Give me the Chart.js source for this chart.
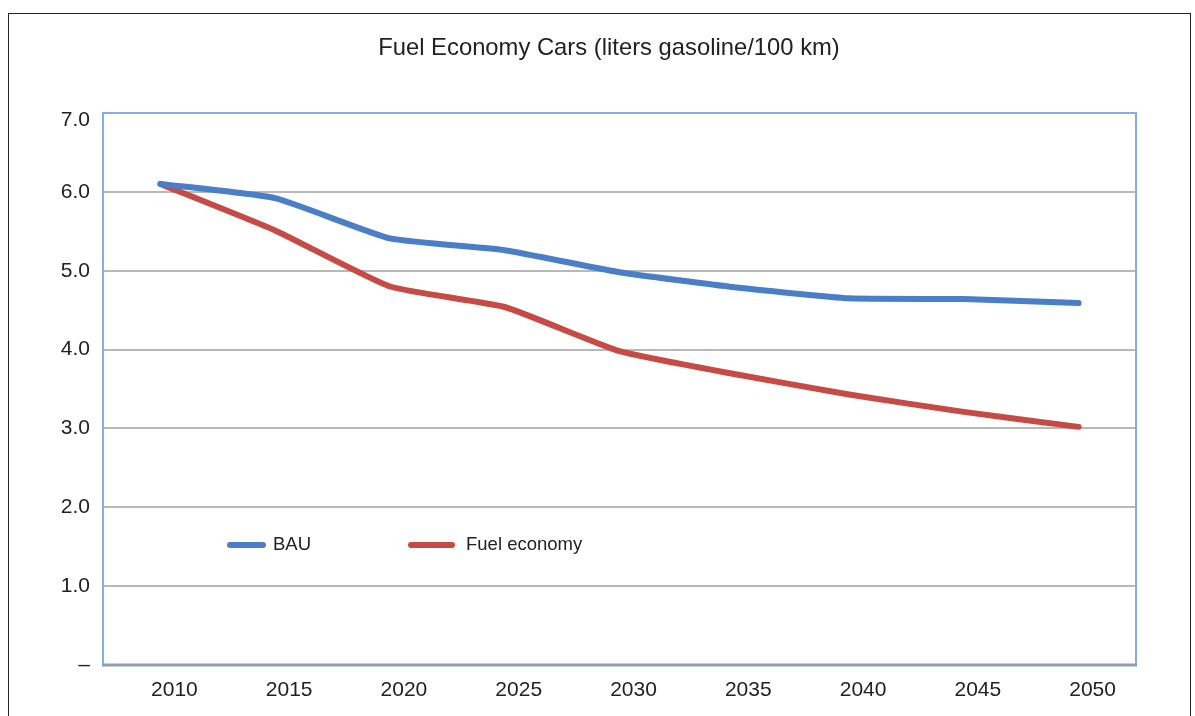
<!DOCTYPE html>
<html>
<head>
<meta charset="utf-8">
<script src="https://cdn.jsdelivr.net/npm/chart.js@4/dist/chart.umd.min.js"></script>
<style>
  html, body { margin: 0; padding: 0; background: #fff; overflow: hidden; }
  #frame { position: absolute; left: 8px; top: 13px; width: 1181px; height: 720px; border: 1px solid #222; }
  #wrap { position: absolute; left: 0; top: 0; width: 1195px; height: 716px; }
</style>
</head>
<body>
<div id="frame"></div>
<div id="wrap"><canvas id="fuelChart"></canvas></div>
<script>
const years = ['2010', '2015', '2020', '2025', '2030', '2035', '2040', '2045', '2050']
const bau = [6.10, 5.92, 5.41, 5.26, 4.98, 4.79, 4.65, 4.64, 4.59]
const fuelEconomy = [6.10, 5.51, 4.80, 4.54, 3.98, 3.69, 3.43, 3.21, 3.02]
const yTicks = [0, 1, 2, 3, 4, 5, 6, 7]
const chartTitle = 'Fuel Economy Cars (liters gasoline/100 km)'

const blue = '#4a7ec6'
const red = '#c64a45'
const font = "'Liberation Sans', Arial, sans-serif"

// title, box around the plot, top tick label and legend
const plotBox = {
    id: 'plotBox',
    afterDraw(chart) {
        const { ctx, chartArea: a } = chart
        ctx.save()
        ctx.fillStyle = '#222'
        ctx.font = '23.8px ' + font
        ctx.textAlign = 'center'
        ctx.textBaseline = 'middle'
        ctx.fillText(chartTitle, 609, 48)

        // the 7.0 label sits a bit lower than its gridline in the original
        ctx.font = '21px ' + font
        ctx.textAlign = 'right'
        ctx.fillText(yTicks[yTicks.length - 1].toFixed(1), a.left - 13, a.top + 7)

        ctx.strokeStyle = '#86aedf'
        ctx.lineWidth = 2
        ctx.beginPath()
        ctx.moveTo(a.left, a.bottom)
        ctx.lineTo(a.left, a.top)
        ctx.lineTo(a.right, a.top)
        ctx.lineTo(a.right, a.bottom)
        ctx.stroke()
        ctx.strokeStyle = '#8d9db3'
        ctx.lineWidth = 3
        ctx.beginPath()
        ctx.moveTo(a.left - 1, a.bottom)
        ctx.lineTo(a.right + 1, a.bottom)
        ctx.stroke()

        // legend
        const ly = a.top + 432
        const items = [
            { label: 'BAU', color: blue, x0: a.left + 127, x1: a.left + 160, tx: a.left + 170 },
            { label: 'Fuel economy', color: red, x0: a.left + 308, x1: a.left + 349, tx: a.left + 363 },
        ]
        ctx.lineCap = 'round'
        ctx.lineWidth = 6
        ctx.font = '18.5px ' + font
        ctx.textAlign = 'left'
        items.forEach(it => {
            ctx.strokeStyle = it.color
            ctx.beginPath()
            ctx.moveTo(it.x0, ly)
            ctx.lineTo(it.x1, ly)
            ctx.stroke()
            ctx.fillText(it.label, it.tx, ly)
        })
        ctx.restore()
    }
}

const fuelChart = new Chart(document.getElementById('fuelChart'), {
    type: 'line',
    data: {
        labels: years,
        datasets: [{
            label: 'BAU',
            data: bau,
            borderColor: blue,
            borderWidth: 6,
            pointRadius: 0,
            tension: 0.15,
            borderCapStyle: 'round',
            borderJoinStyle: 'round',
        }, {
            label: 'Fuel economy',
            data: fuelEconomy,
            borderColor: red,
            borderWidth: 6,
            pointRadius: 0,
            tension: 0.15,
            borderCapStyle: 'round',
            borderJoinStyle: 'round',
        }]
    },
    options: {
        responsive: true,
        maintainAspectRatio: false,
        animation: false,
        layout: { padding: { left: 0, right: 59, top: 113, bottom: 0 } },
        plugins: {
            legend: { display: false },
            tooltip: { enabled: false },
            title: { display: false },
        },
        scales: {
            x: {
                offset: true,
                grid: { display: false },
                border: { display: false },
                ticks: {
                    color: '#222',
                    font: { family: font, size: 21 },
                    labelOffset: 14,
                    padding: 5,
                    maxRotation: 0,
                },
                afterFit(s) { s.height = 51 },
            },
            y: {
                min: 0,
                max: 7,
                afterBuildTicks(s) { s.ticks = yTicks.map(v => ({ value: v })) },
                grid: { color: '#b8b8b8', lineWidth: 2, drawTicks: false },
                border: { display: false },
                ticks: {
                    color: '#222',
                    font: { family: font, size: 21 },
                    padding: 13,
                    callback: v => v === 0 ? '–' : (v === 7 ? '' : v.toFixed(1)),
                },
                afterFit(s) { s.width = 103 },
            },
        },
    },
    plugins: [plotBox],
})
</script>
</body>
</html>
